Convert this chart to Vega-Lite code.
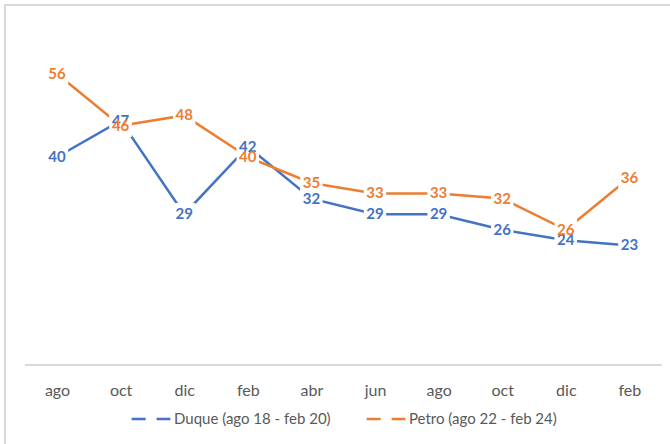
{
  "$schema": "https://vega.github.io/schema/vega-lite/v6.json",
  "width": 670,
  "height": 442,
  "autosize": {"type": "none"},
  "padding": {"left": 5, "top": 5, "right": 0, "bottom": 0},
  "background": "white",
  "config": {
    "view": {"stroke": "#d9d9d9", "strokeWidth": 2},
    "font": "Lato"
  },
  "data": {
    "values": [
      {"n": 1, "mes": "ago", "serie": "Duque (ago 18 - feb 20)", "valor": 40},
      {"n": 2, "mes": "oct", "serie": "Duque (ago 18 - feb 20)", "valor": 47},
      {"n": 3, "mes": "dic", "serie": "Duque (ago 18 - feb 20)", "valor": 29},
      {"n": 4, "mes": "feb", "serie": "Duque (ago 18 - feb 20)", "valor": 42},
      {"n": 5, "mes": "abr", "serie": "Duque (ago 18 - feb 20)", "valor": 32},
      {"n": 6, "mes": "jun", "serie": "Duque (ago 18 - feb 20)", "valor": 29},
      {"n": 7, "mes": "ago", "serie": "Duque (ago 18 - feb 20)", "valor": 29},
      {"n": 8, "mes": "oct", "serie": "Duque (ago 18 - feb 20)", "valor": 26},
      {"n": 9, "mes": "dic", "serie": "Duque (ago 18 - feb 20)", "valor": 24},
      {"n": 10, "mes": "feb", "serie": "Duque (ago 18 - feb 20)", "valor": 23},
      {"n": 1, "mes": "ago", "serie": "Petro (ago 22 - feb 24)", "valor": 56},
      {"n": 2, "mes": "oct", "serie": "Petro (ago 22 - feb 24)", "valor": 46},
      {"n": 3, "mes": "dic", "serie": "Petro (ago 22 - feb 24)", "valor": 48},
      {"n": 4, "mes": "feb", "serie": "Petro (ago 22 - feb 24)", "valor": 40},
      {"n": 5, "mes": "abr", "serie": "Petro (ago 22 - feb 24)", "valor": 35},
      {"n": 6, "mes": "jun", "serie": "Petro (ago 22 - feb 24)", "valor": 33},
      {"n": 7, "mes": "ago", "serie": "Petro (ago 22 - feb 24)", "valor": 33},
      {"n": 8, "mes": "oct", "serie": "Petro (ago 22 - feb 24)", "valor": 32},
      {"n": 9, "mes": "dic", "serie": "Petro (ago 22 - feb 24)", "valor": 26},
      {"n": 10, "mes": "feb", "serie": "Petro (ago 22 - feb 24)", "valor": 36}
    ]
  },
  "encoding": {
    "x": {
      "field": "n",
      "type": "quantitative",
      "scale": {"domain": [0.1824, 10.717], "nice": false, "zero": false},
      "axis": {
        "title": null,
        "values": [1, 2, 3, 4, 5, 6, 7, 8, 9, 10],
        "labelAngle": 0,
        "labelExpr": "['ago','oct','dic','feb','abr','jun','ago','oct','dic','feb'][datum.value-1]",
        "labelFontSize": 16,
        "labelColor": "#595959",
        "labelPadding": 17,
        "labelFlush": false,
        "labelOverlap": false,
        "offset": -82,
        "ticks": false,
        "domain": false,
        "grid": false
      }
    },
    "y": {
      "field": "valor",
      "type": "quantitative",
      "scale": {"domain": [-15.77, 69.23], "nice": false, "zero": false},
      "axis": null
    },
    "color": {
      "field": "serie",
      "type": "nominal",
      "scale": {"domain": ["Duque (ago 18 - feb 20)", "Petro (ago 22 - feb 24)"], "range": ["#4472C4", "#ED7D31"]},
      "legend": {
        "title": null,
        "orient": "none",
        "legendX": 125,
        "legendY": 393,
        "direction": "horizontal",
        "symbolType": "stroke",
        "symbolStrokeWidth": 2.5,
        "symbolDash": [14, 11],
        "symbolSize": 1500,
        "labelFontSize": 15,
        "labelColor": "#595959",
        "labelOffset": 2,
        "columnPadding": 30,
        "labelLimit": 300
      }
    }
  },
  "layer": [
    {
      "mark": {"type": "rule", "color": "#d9d9d9", "strokeWidth": 1.5},
      "encoding": {
        "x": {"datum": 0.5, "type": "quantitative"},
        "x2": {"datum": 10.5},
        "y": {"datum": 0, "type": "quantitative"},
        "color": {"value": "#d9d9d9"}
      }
    },
    {
      "mark": {"type": "line", "strokeWidth": 2.5},
      "encoding": {"detail": {"field": "serie"}}
    },
    {
      "mark": {"type": "point", "shape": "square", "filled": true, "opacity": 1, "size": 500, "color": "white"},
      "encoding": {"color": {"value": "white"}}
    },
    {
      "mark": {"type": "text", "fontWeight": "bold", "fontSize": 15, "baseline": "middle", "align": "center"},
      "encoding": {"text": {"field": "valor", "type": "quantitative"}}
    }
  ]
}
